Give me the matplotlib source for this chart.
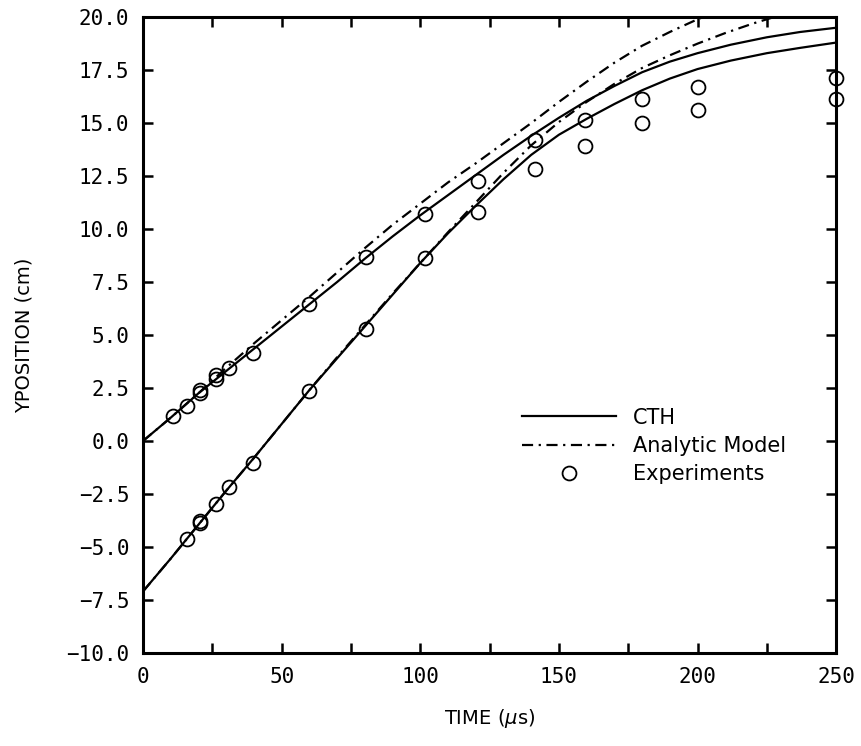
import numpy as np
import matplotlib
matplotlib.use("Agg")
import matplotlib.pyplot as plt
from matplotlib.ticker import MultipleLocator, FuncFormatter

plt.rcParams['font.family'] = ['DejaVu Sans']

# CTH curves (time in us, y position in cm)
cth_t = [0, 10, 20, 30, 40, 50, 60, 70, 80, 90, 100, 110, 120, 130, 140,
         150, 160, 170, 180, 190, 200, 212, 225, 237, 250]
cth_upper = [0.0, 1.1, 2.25, 3.3, 4.35, 5.4, 6.45, 7.5, 8.6, 9.65, 10.65, 11.6,
             12.55, 13.5, 14.4, 15.25, 16.05, 16.75, 17.4, 17.9, 18.3, 18.7,
             19.05, 19.3, 19.5]
cth_lower = [-7.1, -5.55, -3.95, -2.35, -0.8, 0.8, 2.4, 3.9, 5.4, 6.9, 8.4,
             9.8, 11.1, 12.35, 13.5, 14.45, 15.2, 15.9, 16.55, 17.1, 17.55,
             17.95, 18.3, 18.55, 18.8]

# analytic model curves
ana_t = [0, 10, 20, 30, 40, 50, 60, 70, 80, 90, 100, 110, 120, 130, 140,
         150, 160, 170, 180, 190, 200, 210, 220, 230]
ana_upper = [0.0, 1.1, 2.25, 3.45, 4.6, 5.7, 6.8, 7.95, 9.1, 10.2, 11.2, 12.2,
             13.1, 14.05, 15.0, 16.0, 16.95, 17.85, 18.65, 19.3, 19.9, 20.4,
             20.9, 21.4]
ana_lower = [-7.1, -5.55, -3.95, -2.35, -0.8, 0.8, 2.4, 3.95, 5.45, 6.95, 8.4,
             9.85, 11.25, 12.65, 13.95, 15.05, 16.0, 16.85, 17.6, 18.2, 18.75,
             19.25, 19.7, 20.1]

# experiments
exp_t_upper = [10.9, 16.0, 20.6, 20.6, 26.3, 26.3, 31.1, 39.5, 59.7, 80.4,
               101.6, 120.8, 141.4, 159.4, 179.8, 200, 250]
exp_upper = [1.18, 1.65, 2.25, 2.4, 2.9, 3.1, 3.46, 4.14, 6.44, 8.66, 10.7,
             12.25, 14.2, 15.14, 16.13, 16.68, 17.15]
exp_t_lower = [16.0, 20.6, 20.6, 26.3, 31.1, 39.6, 59.7, 80.4, 101.6, 120.8,
               141.4, 159.4, 179.8, 200, 250]
exp_lower = [-4.64, -3.88, -3.76, -2.97, -2.2, -1.05, 2.36, 5.3, 8.62, 10.82,
             12.82, 13.9, 15.01, 15.64, 16.16]

fig = plt.figure(figsize=(8.62, 7.46), dpi=100)
ax = fig.add_axes([0.166, 0.125, 0.804, 0.852])

dashdot = (0, (5, 2.5, 1, 2.5))
ax.plot(cth_t, cth_upper, color='black', lw=1.6, label='CTH')
ax.plot(cth_t, cth_lower, color='black', lw=1.6)
ax.plot(ana_t, ana_upper, color='black', lw=1.6, linestyle=dashdot, label='Analytic Model')
ax.plot(ana_t, ana_lower, color='black', lw=1.6, linestyle=dashdot)
ax.plot(exp_t_upper, exp_upper, 'o', mfc='none', mec='black', ms=10, mew=1.3,
        label='Experiments', clip_on=False)
ax.plot(exp_t_lower, exp_lower, 'o', mfc='none', mec='black', ms=10, mew=1.3,
        clip_on=False)

ax.set_xlim(0, 250)
ax.set_ylim(-10, 20)

ax.xaxis.set_major_locator(MultipleLocator(25))
ax.xaxis.set_major_formatter(FuncFormatter(lambda v, p: '%d' % v if v % 50 == 0 else ''))
ax.yaxis.set_major_locator(MultipleLocator(2.5))
ax.yaxis.set_major_formatter(FuncFormatter(lambda v, p: ('%.1f' % v).replace('-', '\u2212')))

ax.tick_params(direction='in', length=7, width=1.8, top=True, right=True, pad=10)
for lab in ax.get_xticklabels() + ax.get_yticklabels():
    lab.set_family('DejaVu Sans Mono')
    lab.set_fontsize(15)
for s in ax.spines.values():
    s.set_linewidth(2.2)

ax.set_xlabel(r'TIME ($\mu$s)', fontsize=14)
ax.set_ylabel('YPOSITION (cm)', fontsize=14)
ax.xaxis.set_label_coords(0.5, -0.085)
ax.yaxis.set_label_coords(-0.158, 0.5)

leg = ax.legend(loc='upper left', bbox_to_anchor=(0.52, 0.415), frameon=False,
                fontsize=15, handlelength=4.5, handletextpad=0.8, labelspacing=0.4)

fig.savefig('out.png', dpi=100)
